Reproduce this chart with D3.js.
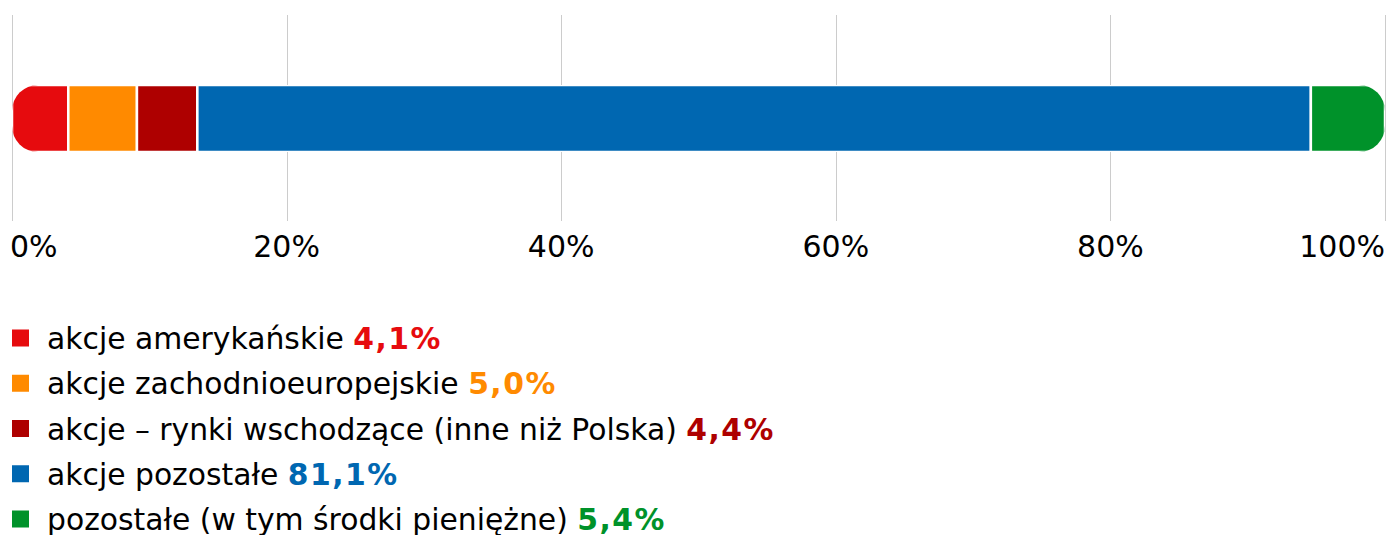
<!DOCTYPE html>
<html>
<head>
<meta charset="utf-8">
<script src="https://cdn.jsdelivr.net/npm/d3@7"></script>
<style>
  body { margin: 0; background: #fff; }
  svg { display: block; font-family: Verdana, "DejaVu Sans", sans-serif; }
</style>
</head>
<body>
<div id="chart"></div>
<script>
// data
const categories = [
  "akcje amerykańskie",
  "akcje zachodnioeuropejskie",
  "akcje – rynki wschodzące (inne niż Polska)",
  "akcje pozostałe",
  "pozostałe (w tym środki pieniężne)"
];
const values = [4.1, 5.0, 4.4, 81.1, 5.4];
const colors = ["#e60b0e", "#ff8a00", "#ae0000", "#0067b1", "#00922a"];
const ticks = [0, 20, 40, 60, 80, 100];

const width = 1390, height = 535;
const margin = {left: 12, right: 5};

const svg = d3.select("#chart")
  .append("svg")
    .attr("width", width)
    .attr("height", height);

const x = d3.scaleLinear()
  .domain([0, 100])
  .range([margin.left, width - margin.right]);

// gridlines
svg.append("g")
  .selectAll("line")
  .data(ticks)
  .join("line")
    .attr("x1", d => Math.round(x(d)) + 0.5)
    .attr("x2", d => Math.round(x(d)) + 0.5)
    .attr("y1", 15)
    .attr("y2", 221)
    .attr("stroke", "#cccccc")
    .attr("stroke-width", 1);

// tick labels
svg.append("g")
  .selectAll("text")
  .data(ticks)
  .join("text")
    .attr("x", (d, i) => x(d) + (i == 0 ? -2 : 0))
    .attr("y", 257)
    .attr("text-anchor", (d, i) => i == 0 ? "start" : (i == ticks.length - 1 ? "end" : "middle"))
    .attr("font-size", 30)
    .attr("fill", "#000")
    .text(d => d + "%");

// stacked segments
let acc = 0;
const stacked = values.map((v, i) => {
  const s = {x0: acc, x1: acc + v, color: colors[i], i: i};
  acc += v;
  return s;
});

const barY = 85, barH = 67, r = 26;

// clip the whole bar to a rounded rect so both ends are rounded
svg.append("clipPath")
    .attr("id", "barclip")
  .append("rect")
    .attr("x", x(0))
    .attr("y", barY)
    .attr("width", x(100) - x(0))
    .attr("height", barH)
    .attr("rx", r)
    .attr("ry", r);

svg.append("g")
    .attr("clip-path", "url(#barclip)")
  .selectAll("rect")
  .data(stacked)
  .join("rect")
    .attr("x", d => x(d.x0))
    .attr("y", barY)
    .attr("width", d => x(d.x1) - x(d.x0))
    .attr("height", barH)
    .attr("fill", d => d.color)
    .attr("stroke", "#fff")
    .attr("stroke-width", 2.5);

// legend
const legend = svg.append("g")
  .selectAll("g")
  .data(categories)
  .join("g")
    .attr("transform", (d, i) => `translate(12, ${338 + i * 45.25})`);

legend.append("rect")
    .attr("x", 0)
    .attr("y", -8.5)
    .attr("width", 17)
    .attr("height", 17)
    .attr("fill", (d, i) => colors[i]);

const lt = legend.append("text")
    .attr("x", 35)
    .attr("y", 11)
    .attr("font-size", 29.8)
    .attr("fill", "#000");

lt.append("tspan").text(d => d + " ");
lt.append("tspan")
    .attr("font-weight", "bold")
    .attr("letter-spacing", 1.5)
    .attr("fill", (d, i) => colors[i])
    .text((d, i) => values[i].toFixed(1).replace(".", ",") + "%");
</script>
</body>
</html>
